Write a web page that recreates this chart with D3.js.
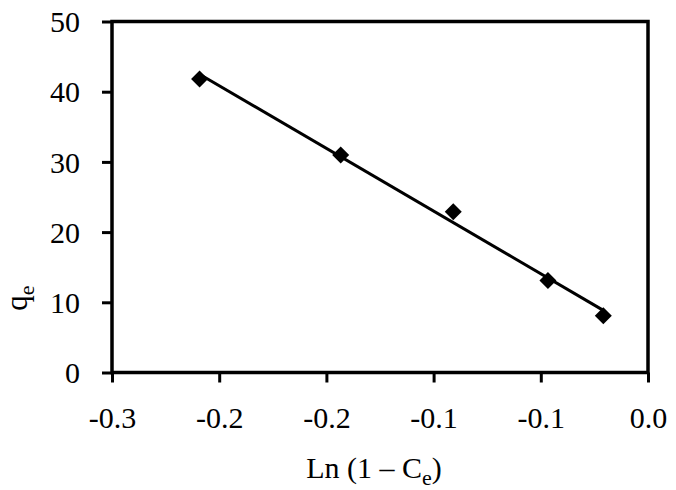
<!DOCTYPE html>
<html>
<head>
<meta charset="utf-8">
<script src="https://cdn.jsdelivr.net/npm/d3@7"></script>
<style>
  body { margin: 0; background: #fff; }
  text { font-family: "Liberation Serif", "DejaVu Serif", serif; fill: #000; }
</style>
</head>
<body>
<svg id="chart" width="676" height="490"></svg>
<script>
// data
var lnValues = [-0.251, -0.172, -0.109, -0.056, -0.025];
var qeValues = [41.8, 31.0, 22.9, 13.1, 8.1];
var xTicks = [-0.3, -0.24, -0.18, -0.12, -0.06, 0];
var yTicks = [0, 10, 20, 30, 40, 50];

var svg = d3.select("#chart");
var margin = { left: 112, top: 21.5, right: 28, bottom: 117.5 };
var width = 676 - margin.left - margin.right,
    height = 490 - margin.top - margin.bottom;

var g = svg.append("g")
  .attr("transform", "translate(" + margin.left + "," + margin.top + ")");

var x = d3.scaleLinear().domain([-0.3, 0]).range([0, width]);
var y = d3.scaleLinear().domain([0, 50]).range([height, 0]);

// plain hyphen for the minus sign, like the original
var fmt = d3.formatLocale({ decimal: ".", thousands: ",", grouping: [3], currency: ["", ""], minus: "-" }).format(".1f");

// x axis
var xAxis = g.append("g")
  .attr("transform", "translate(0," + height + ")")
  .call(d3.axisBottom(x).tickValues(xTicks).tickFormat(fmt).tickSize(10).tickSizeOuter(0).tickPadding(24));

// y axis
var yAxis = g.append("g")
  .call(d3.axisLeft(y).tickValues(yTicks).tickSize(10).tickSizeOuter(0).tickPadding(22));

[xAxis, yAxis].forEach(function(a){
  a.select(".domain").remove();
  a.selectAll("line").attr("stroke", "#000").attr("stroke-width", 3);
  a.selectAll("text").style("font-size", "30px").attr("fill", "#000");
});
yAxis.selectAll("text").attr("dy", "0.34em");

// frame
g.append("rect")
  .attr("width", width)
  .attr("height", height)
  .attr("fill", "none")
  .attr("stroke", "#000")
  .attr("stroke-width", 3.5);

// linear trend line
var n = lnValues.length;
var mx = d3.mean(lnValues), my = d3.mean(qeValues);
var sxy = 0, sxx = 0;
for (var i = 0; i < n; i++) {
  sxy += (lnValues[i] - mx) * (qeValues[i] - my);
  sxx += (lnValues[i] - mx) * (lnValues[i] - mx);
}
var slope = sxy / sxx, icpt = my - slope * mx;
var xs = d3.extent(lnValues);

g.append("line")
  .attr("x1", x(xs[0])).attr("y1", y(slope * xs[0] + icpt))
  .attr("x2", x(xs[1])).attr("y2", y(slope * xs[1] + icpt))
  .attr("stroke", "#000")
  .attr("stroke-width", 3);

// diamond markers
g.selectAll(".pt")
  .data(lnValues)
  .enter()
  .append("path")
    .attr("class", "pt")
    .attr("d", "M0,-8.5L8.5,0L0,8.5L-8.5,0Z")
    .attr("transform", function(d, i){ return "translate(" + x(d) + "," + y(qeValues[i]) + ")"; })
    .attr("fill", "#000");

// axis titles
var xt = svg.append("text")
  .attr("x", margin.left + width / 2 - 6)
  .attr("y", 478)
  .attr("text-anchor", "middle")
  .style("font-size", "30px");
xt.append("tspan").text("Ln (1 \u2013 C");
xt.append("tspan").attr("dy", 7).style("font-size", "22px").text("e");
xt.append("tspan").attr("dy", -7).text(")");

var yt = svg.append("text")
  .attr("transform", "translate(27," + (margin.top + height / 2 + 101) + ") rotate(-90)")
  .attr("text-anchor", "middle")
  .style("font-size", "31px");
yt.append("tspan").text("q");
yt.append("tspan").attr("dy", 7).style("font-size", "22px").text("e");
</script>
</body>
</html>
